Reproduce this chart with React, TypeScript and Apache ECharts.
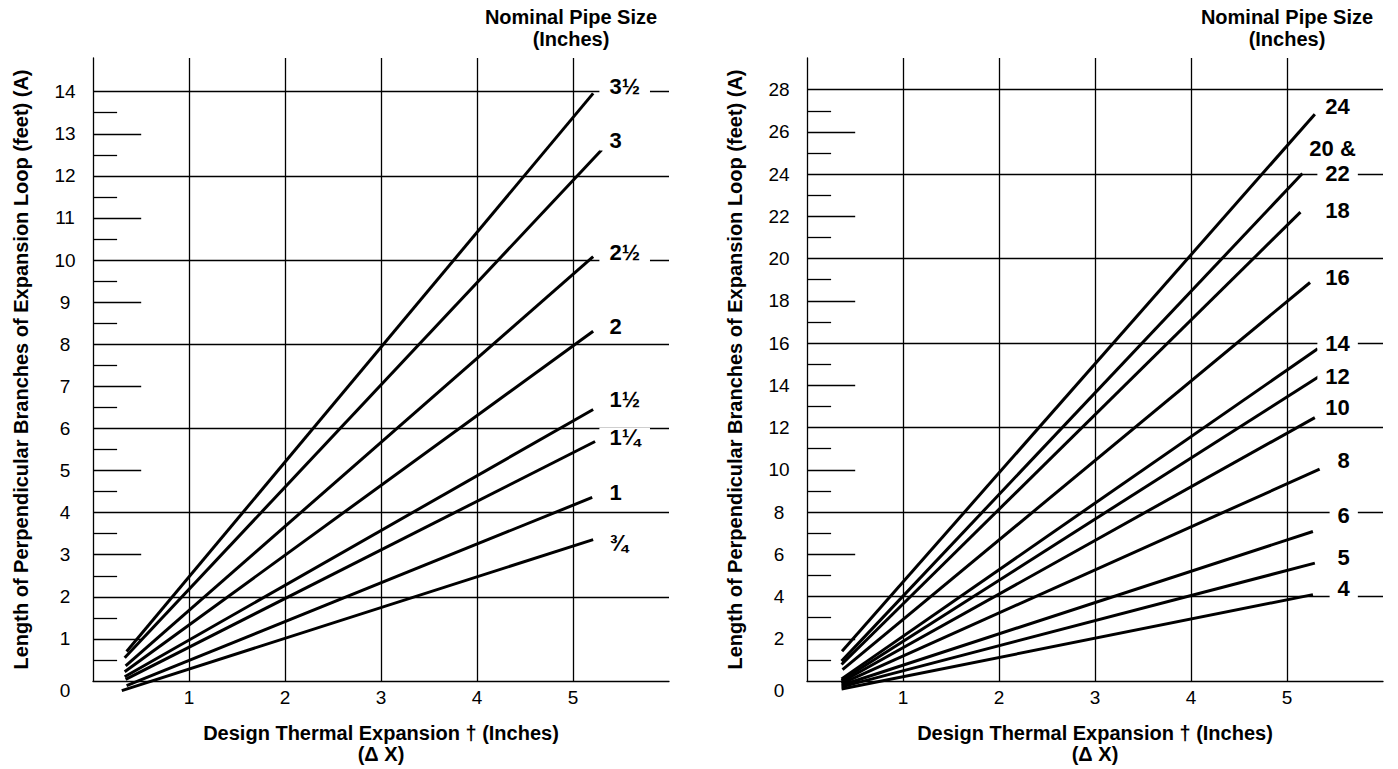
import React, { useEffect, useRef } from "react";
import * as echarts from "echarts";

const FONT = "'Liberation Sans', Arial, Helvetica, sans-serif";

// ---------- Left chart: pipe sizes 3/4 .. 3 1/2 ----------
const leftSizes = ["¾", "1", "1¼", "1½", "2", "2½", "3", "3½"];
const leftStartX = [0.3, 0.35, 0.34, 0.33, 0.33, 0.34, 0.33, 0.35];
const leftStartY = [-0.23, -0.11, 0.04, 0.1, 0.22, 0.36, 0.55, 0.7];
const leftEndX = [5.21, 5.2, 5.23, 5.21, 5.21, 5.21, 5.3, 5.21];
const leftEndY = [3.36, 4.36, 5.69, 6.45, 8.31, 10.08, 12.62, 13.96];
const leftLabelText = ["¾", "1", "1¼", "1½", "2", "2½", "3", "3½"];
const leftLabelY = [3.27, 4.48, 5.78, 6.69, 8.43, 10.19, 12.84, 14.13];
const leftLongTicks = [1, 3, 5, 7, 9, 11, 13];
const leftShortTicks = [0.5, 1.5, 2.5, 3.5, 4.5, 5.5, 6.5, 7.5, 8.5, 9.5, 10.5, 11.5, 12.5, 13.5];

// ---------- Right chart: pipe sizes 4 .. 24 ----------
const rightSizes = ["4", "5", "6", "8", "10", "12", "14", "16", "18", "20 & 22", "24"];
const rightStartX = [0.36, 0.36, 0.36, 0.36, 0.36, 0.36, 0.36, 0.37, 0.36, 0.36, 0.365];
const rightStartY = [-0.38, -0.28, -0.2, -0.12, -0.05, 0.02, 0.1, 0.54, 0.78, 0.94, 1.41];
const rightEndX = [5.27, 5.29, 5.27, 5.34, 5.29, 5.33, 5.32, 5.24, 5.14, 5.16, 5.29];
const rightEndY = [4.09, 5.58, 7.08, 10.03, 12.47, 14.41, 15.73, 18.87, 22.2, 24.03, 26.84];
const rightLabelText = ["4", "5", "6", "8", "10", "12", "14", "16", "18", "22", "20 &", "24"];
const rightLabelY = [4.37, 5.86, 7.86, 10.42, 12.94, 14.41, 15.99, 19.11, 22.3, 24.02, 25.2, 27.22];
const rightLabelX = [5.738, 5.738, 5.738, 5.738, 5.738, 5.738, 5.738, 5.738, 5.738, 5.738, 5.8, 5.738];
const rightLongTicks = [2, 6, 10, 14, 18, 22, 26];
const rightShortTicks = [1, 3, 5, 7, 9, 11, 13, 15, 17, 19, 21, 23, 25, 27];

const xTickLabels = ["1", "2", "3", "4", "5"];

const X_TITLE = "Design Thermal Expansion † (Inches)\n(Δ X)";
const Y_TITLE = "Length of Perpendicular Branches of Expansion Loop (feet) (A)";

const LINE = { color: "#000", width: 1.3 };
const LEFT_LABEL_X = 5.275;
const LONG_TICK = 0.502;
const SHORT_TICK = 0.251;

function xAxisFor(gridIndex: number) {
  return {
    type: "value",
    gridIndex,
    min: 0,
    max: 6,
    interval: 1,
    axisLine: { show: true, onZero: false, lineStyle: LINE },
    axisTick: { show: false },
    splitLine: { show: true, showMinLine: false, showMaxLine: false, lineStyle: LINE },
    axisLabel: {
      formatter: (v: number) => (xTickLabels.includes(String(v)) ? String(v) : ""),
      fontSize: 19,
      color: "#000",
      margin: 7,
      fontFamily: FONT,
    },
    name: X_TITLE,
    nameLocation: "middle",
    nameGap: 41,
    nameTextStyle: { fontSize: 20, fontWeight: "bold", lineHeight: 21, color: "#000", fontFamily: FONT },
  };
}

function yAxesFor(gridIndex: number, max: number, labelStep: number, gridStep: number, lastLabel: number) {
  return [
    {
      type: "value",
      gridIndex,
      position: "left",
      min: 0,
      max,
      interval: labelStep,
      axisLine: { show: true, onZero: false, lineStyle: LINE },
      axisTick: { show: false },
      splitLine: { show: false },
      axisLabel: {
        formatter: (v: number) =>
          v === 0 ? "{zero|0}" : v <= lastLabel && Number.isInteger(v) ? String(v) : "",
        fontSize: 19,
        color: "#000",
        align: "center",
        margin: 28,
        fontFamily: FONT,
        rich: { zero: { fontSize: 19, color: "#000", fontFamily: FONT, padding: [18, 0, 0, 0] } },
      },
      name: Y_TITLE,
      nameLocation: "middle",
      nameRotate: 90,
      nameGap: 61,
      nameTextStyle: { fontSize: 20, fontWeight: "bold", lineHeight: 22, color: "#000", fontFamily: FONT },
    },
    {
      type: "value",
      gridIndex,
      position: "left",
      min: 0,
      max,
      interval: gridStep,
      axisLine: { show: false },
      axisTick: { show: false },
      axisLabel: { show: false },
      splitLine: { show: true, showMinLine: false, showMaxLine: false, lineStyle: LINE },
    },
  ];
}

function lineSeries(
  names: string[],
  sx: number[],
  sy: number[],
  ex: number[],
  ey: number[],
  xAxisIndex: number,
  yAxisIndex: number
) {
  return names.map((n, i) => ({
    name: n,
    type: "line",
    xAxisIndex,
    yAxisIndex,
    data: [
      [sx[i], sy[i]],
      [ex[i], ey[i]],
    ],
    symbol: "none",
    clip: false,
    silent: true,
    z: 3,
    lineStyle: { color: "#000", width: 3, cap: "butt" },
  }));
}

function tickMarks(longTicks: number[], shortTicks: number[]) {
  return {
    silent: true,
    symbol: ["none", "none"],
    label: { show: false },
    lineStyle: { color: "#000", width: 1.3, type: "solid" },
    emphasis: { disabled: true },
    data: [
      ...longTicks.map((v) => [{ coord: [0, v] }, { coord: [LONG_TICK, v] }]),
      ...shortTicks.map((v) => [{ coord: [0, v] }, { coord: [SHORT_TICK, v] }]),
    ],
  };
}

const labelBase = {
  show: true,
  distance: 0,
  formatter: "{b}",
  fontSize: 22,
  lineHeight: 20,
  fontWeight: "bold",
  color: "#000",
  opacity: 1,
  textBorderWidth: 0,
  backgroundColor: "#fff",
  fontFamily: FONT,
};

export default function App() {
  const ref = useRef<HTMLDivElement>(null);

  useEffect(() => {
    if (!ref.current) return;
    const chart = echarts.init(ref.current, undefined, { renderer: "svg" });

    const option = {
      animation: false,
      backgroundColor: "#fff",
      textStyle: { fontFamily: FONT },
      grid: [
        { left: 93, top: 58, width: 576, height: 631 },
        { left: 807, top: 58, width: 576, height: 630 },
      ],
      xAxis: [xAxisFor(0), xAxisFor(1)],
      yAxis: [...yAxesFor(0, 14.8, 1, 2, 14), ...yAxesFor(1, 29.5, 2, 4, 28)],
      graphic: [571, 1287].map((x) => ({
        type: "text",
        x,
        y: 6,
        silent: true,
        style: {
          text: "Nominal Pipe Size\n(Inches)",
          align: "center",
          textAlign: "center",
          verticalAlign: "top",
          textVerticalAlign: "top",
          fontSize: 20,
          fontWeight: "bold",
          lineHeight: 22,
          fontFamily: FONT,
          fill: "#000",
        },
      })),
      series: [
        ...lineSeries(leftSizes, leftStartX, leftStartY, leftEndX, leftEndY, 0, 0),
        ...lineSeries(rightSizes, rightStartX, rightStartY, rightEndX, rightEndY, 1, 2),
        {
          type: "scatter",
          name: "left-labels",
          xAxisIndex: 0,
          yAxisIndex: 0,
          symbolSize: 0,
          silent: true,
          z: 5,
          itemStyle: { color: "#000" },
          data: leftLabelText.map((t, i) => ({ name: t, value: [LEFT_LABEL_X, leftLabelY[i]] })),
          label: { ...labelBase, position: "right", padding: [0, 10, 0, 10] },
          markLine: tickMarks(leftLongTicks, leftShortTicks),
        },
        {
          type: "scatter",
          name: "right-labels",
          xAxisIndex: 1,
          yAxisIndex: 2,
          symbolSize: 0,
          silent: true,
          z: 5,
          itemStyle: { color: "#000" },
          data: rightLabelText.map((t, i) => ({ name: t, value: [rightLabelX[i], rightLabelY[i]] })),
          label: { ...labelBase, position: "left", padding: [0, 8, 0, 8] },
          markLine: tickMarks(rightLongTicks, rightShortTicks),
        },
      ],
    };

    chart.setOption(option as any);
    return () => chart.dispose();
  }, []);

  return (
    <div
      ref={ref}
      style={{ position: "fixed", left: 0, top: 0, width: 1398, height: 769, background: "#fff" }}
    />
  );
}
